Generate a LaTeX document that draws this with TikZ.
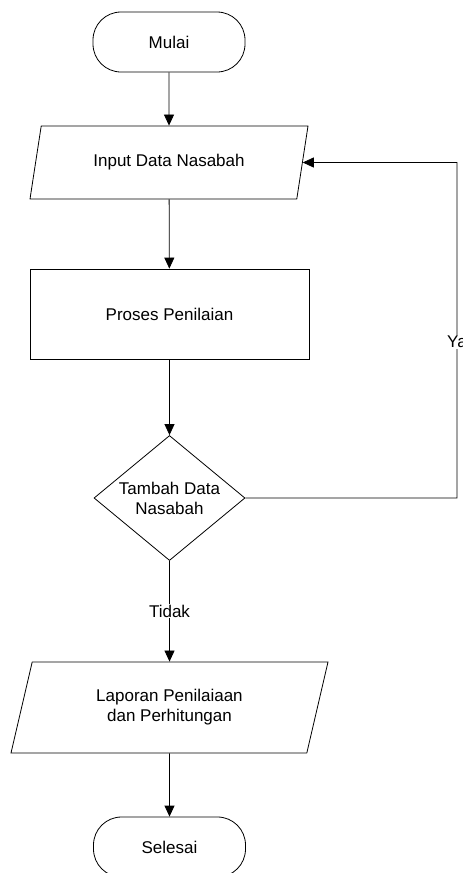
\documentclass[tikz,border=0pt]{standalone}
\usepackage{fontspec}
\setmainfont{Liberation Sans}
\usetikzlibrary{shapes.geometric,arrows.meta}

\tikzset{
  teks/.style={font=\fontsize{17}{20}\selectfont, align=center},
  terminal/.style={teks, draw, rounded corners=28pt, minimum width=152pt, minimum height=60pt},
  io/.style={teks, draw, trapezium, trapezium left angle=63.5, trapezium right angle=116.5,
    trapezium stretches body, minimum height=#1},
  proses/.style={teks, draw, minimum width=279pt, minimum height=90pt},
  keputusan/.style={teks, draw, diamond, aspect=1.21, minimum width=151pt, minimum height=125pt, inner sep=0pt},
  panah/.style={-{Triangle[length=11pt,width=10pt]}, line width=0.8pt}
}

\begin{document}
\begin{tikzpicture}[x=1pt, y=-1pt, line width=0.8pt]
    \useasboundingbox (0,0) rectangle (463,873);
    \node[terminal] (mulai) at (169,42) {Mulai};
    \node[io=73pt, minimum width=278pt] (input) at (169,162.5) {Input Data Nasabah};
    \node[proses] (nilai) at (169.5,314) {Proses Penilaian};
    \node[keputusan] (tambah) at (169.5,498) {Tambah Data\\Nasabah};
    \node[io=91pt, minimum width=317pt] (laporan) at (169.5,707.5) {Laporan Penilaiaan\\dan Perhitungan};
    \node[terminal] (selesai) at (169.5,847) {Selesai};
    \coordinate (belok) at (457,162.5);
    \draw[panah] (mulai) -- (input);
    \draw[panah] (input) -- (nilai);
    \draw[panah] (nilai) -- (tambah);
    \draw[panah] (tambah) -- node[teks, fill=white, inner sep=1pt] {Tidak} (laporan);
    \draw[panah] (laporan) -- (selesai);
    \draw[panah] (tambah.east) -| node[teks, pos=0.733, fill=white, inner sep=1pt] {Ya} (belok) -- (input.east);
\end{tikzpicture}
\end{document}
